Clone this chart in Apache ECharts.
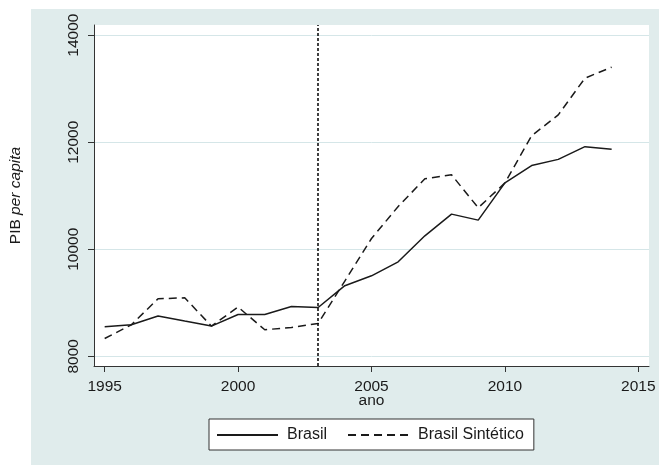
<!DOCTYPE html>
<html>
<head>
<meta charset="utf-8">
<script src="https://cdn.jsdelivr.net/npm/echarts@6/dist/echarts.min.js"></script>
<style>
  html, body { margin: 0; padding: 0; background: #ffffff; }
  #chart { width: 659px; height: 465px; }
</style>
</head>
<body>
<div id="chart"></div>
<script>
// GDP per capita: Brazil vs. synthetic Brazil, 1995-2014
const years = [1995, 1996, 1997, 1998, 1999, 2000, 2001, 2002, 2003, 2004,
               2005, 2006, 2007, 2008, 2009, 2010, 2011, 2012, 2013, 2014];
const brasil = [8553, 8590, 8753, 8659, 8566, 8783, 8783, 8932, 8913, 9320,
                9505, 9766, 10252, 10657, 10545, 11240, 11565, 11680, 11917, 11868];
const sintetico = [8334, 8590, 9076, 9094, 8566, 8921, 8497, 8540, 8615, 9406,
                   10202, 10800, 11317, 11391, 10775, 11240, 12120, 12512, 13197, 13402];
const yTicks = [8000, 10000, 12000, 14000];
const xTicks = [1995, 2000, 2005, 2010, 2015];
const treatmentYear = 2003;

const FONT = 'Liberation Sans, Arial, sans-serif';
const INK = '#1a1a1a';

const pairs = (vals) => years.map((y, i) => [y, vals[i]]);

const chart = echarts.init(document.getElementById('chart'), null, { renderer: 'canvas' });

chart.setOption({
  animation: false,
  backgroundColor: '#ffffff',
  textStyle: { fontFamily: FONT },
  graphic: [{
    type: 'rect',
    z: -10,
    silent: true,
    shape: { x: 31, y: 9, width: 628, height: 456 },
    style: { fill: '#e0ecec' }
  }],
  grid: {
    left: 94, top: 25, width: 555, height: 341,
    show: true, backgroundColor: '#ffffff', borderWidth: 0,
    containLabel: false
  },
  xAxis: {
    type: 'value',
    min: 1994.6, max: 2015.4,
    name: 'ano',
    nameLocation: 'middle',
    nameGap: 27,
    nameMoveOverlap: false,
    nameTextStyle: { fontFamily: FONT, fontSize: 15.5, color: INK },
    axisLine: { show: true, onZero: false, lineStyle: { color: '#333333', width: 1 } },
    axisTick: { show: true, inside: false, length: 6, customValues: xTicks,
                lineStyle: { color: '#333333', width: 1 } },
    axisLabel: { customValues: xTicks, margin: 13, fontFamily: FONT, fontSize: 15.5,
                 color: INK, formatter: (v) => String(v) },
    splitLine: { show: false }
  },
  yAxis: {
    type: 'value',
    min: 7820, max: 14190,
    name: '{a|PIB }{b|per capita}',
    nameLocation: 'middle',
    nameRotate: 90,
    nameGap: 70,
    nameMoveOverlap: false,
    nameTextStyle: {
      fontFamily: FONT, fontSize: 15.5, color: INK,
      rich: {
        a: { fontFamily: FONT, fontSize: 15.5, color: INK },
        b: { fontFamily: FONT, fontSize: 15.5, color: INK, fontStyle: 'italic' }
      }
    },
    axisLine: { show: true, onZero: false, lineStyle: { color: '#333333', width: 1 } },
    axisTick: { show: true, inside: false, length: 6, customValues: yTicks,
                lineStyle: { color: '#333333', width: 1 } },
    axisLabel: { customValues: yTicks, rotate: 90, margin: 12, fontFamily: FONT,
                 fontSize: 15.5, color: INK, formatter: (v) => String(v) },
    splitLine: { show: true, lineStyle: { color: '#d5e6e8', width: 1 } }
  },
  legend: {
    left: 209, top: 419,
    orient: 'horizontal',
    backgroundColor: '#ffffff',
    borderColor: '#333333',
    borderWidth: 1,
    borderRadius: 0,
    padding: [8, 10, 7, 7],
    itemWidth: 61,
    itemHeight: 14,
    itemGap: 20,
    itemStyle: { opacity: 0 },
    textStyle: { fontFamily: FONT, fontSize: 16, color: INK, padding: [0, 0, 0, 4] },
    data: ['Brasil', 'Brasil Sintético']
  },
  series: [
    {
      name: 'Brasil',
      type: 'line',
      data: pairs(brasil),
      symbol: 'none',
      lineStyle: { color: INK, width: 1.5, type: 'solid' },
      itemStyle: { color: INK },
      z: 3,
      markLine: {
        silent: true,
        symbol: ['none', 'none'],
        label: { show: false },
        lineStyle: { color: '#000000', width: 1.5, type: [3, 2] },
        data: [{ xAxis: treatmentYear }]
      }
    },
    {
      name: 'Brasil Sintético',
      type: 'line',
      data: pairs(sintetico),
      symbol: 'none',
      lineStyle: { color: INK, width: 1.5, type: [8, 5] },
      itemStyle: { color: INK },
      z: 3
    }
  ]
});
</script>
</body>
</html>
